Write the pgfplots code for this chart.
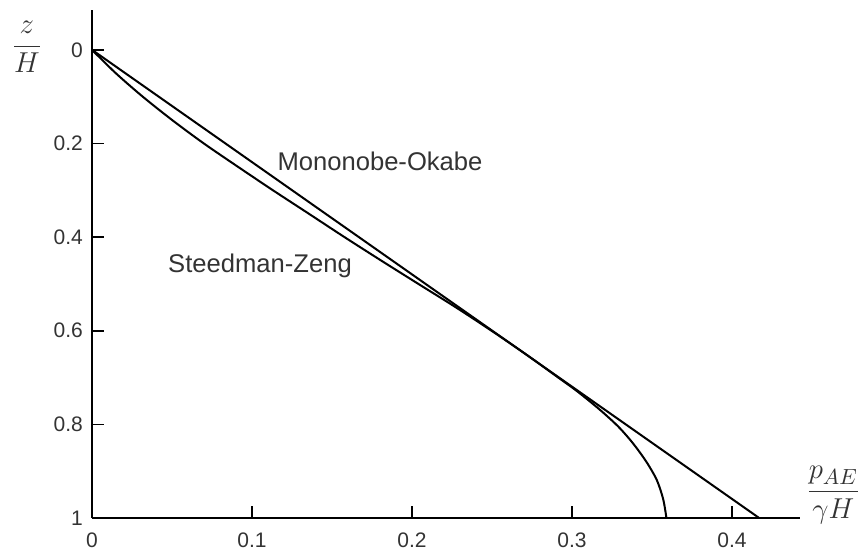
\documentclass[border=0pt]{standalone}
\usepackage{pgfplots}
\usepackage{pgfplotstable}
\pgfplotsset{compat=1.18}
\usepackage{fontspec}
\setmainfont{Liberation Sans}
\definecolor{txt}{HTML}{333333}
% Mononobe-Okabe
\pgfplotstableread{
x z
0 0
0.417 1
}\mo
% Steedman-Zeng
\pgfplotstableread{
x z
0 0
0.0149 0.05
0.0317 0.1
0.0501 0.15
0.0699 0.2
0.0913 0.25
0.1131 0.3
0.1355 0.35
0.1578 0.4
0.1807 0.45
0.2040 0.5
0.2274 0.55
0.2497 0.6
0.27105 0.65
0.2914 0.7
0.3035 0.73
0.3175 0.769
0.329 0.805
0.338 0.84
0.3465 0.88
0.353 0.919
0.357 0.96
0.359 1.0
}\sz
\begin{document}
\begin{tikzpicture}
\begin{axis}[
  scale only axis,
  width=354pt, height=254pt,
  xmin=0, xmax=0.4425,
  ymin=-1, ymax=0.085,
  axis lines=left,
  axis line style={-, line width=1.2pt, black},
  every tick/.style={draw=black, line width=0.9pt},
  tick align=outside,
  major tick length=-0.21cm,
  xtick={0,0.1,0.2,0.3,0.4},
  ytick={-1,-0.8,-0.6,-0.4,-0.2,0},
  xticklabels={0,0.1,0.2,0.3,0.4},
  yticklabels={1,0.8,0.6,0.4,0.2,0},
  /pgf/number format/assume math mode=true,
  ticklabel style={font=\fontsize{10.5}{12}\selectfont, text=txt},
  xticklabel style={yshift=-10pt},
  yticklabel style={xshift=-7pt},
  clip=false,
]
\addplot[black, line width=1pt] table[x=x, y expr=-\thisrow{z}] {\mo};
\addplot[black, line width=1pt, smooth, tension=0.5] table[x=x, y expr=-\thisrow{z}] {\sz};
% inward tick marks
\draw[black, line width=0.9pt] (axis cs:0.1,-1) -- ++(0pt,6pt);
\draw[black, line width=0.9pt] (axis cs:0.2,-1) -- ++(0pt,6pt);
\draw[black, line width=0.9pt] (axis cs:0.3,-1) -- ++(0pt,6pt);
\draw[black, line width=0.9pt] (axis cs:0.4,-1) -- ++(0pt,6pt);
\draw[black, line width=0.9pt] (axis cs:0,-0.2) -- ++(6pt,0pt);
\draw[black, line width=0.9pt] (axis cs:0,-0.4) -- ++(6pt,0pt);
\draw[black, line width=0.9pt] (axis cs:0,-0.6) -- ++(6pt,0pt);
\draw[black, line width=0.9pt] (axis cs:0,-0.8) -- ++(6pt,0pt);
\node[text=txt, font=\fontsize{12.8}{15}\selectfont] at (axis cs:0.18,-0.239) {Mononobe-Okabe};
\node[text=txt, font=\fontsize{12.8}{15}\selectfont] at (axis cs:0.105,-0.4615) {Steedman-Zeng};
\node[text=txt, font=\fontsize{15}{18}\selectfont] at (axis description cs:-0.092,0.927) {$\displaystyle\frac{z}{H}$};
\node[text=txt, font=\fontsize{15}{18}\selectfont] at (axis description cs:1.047,0.045) {$\displaystyle\frac{p_{AE}}{\gamma H}$};
\coordinate (bbll) at (axis description cs:-0.1299,-0.0689);
\coordinate (bbur) at (axis description cs:1.0847,1.0197);
\end{axis}
\pgfresetboundingbox
\path[use as bounding box] (bbll) rectangle (bbur);
\end{tikzpicture}
\end{document}
